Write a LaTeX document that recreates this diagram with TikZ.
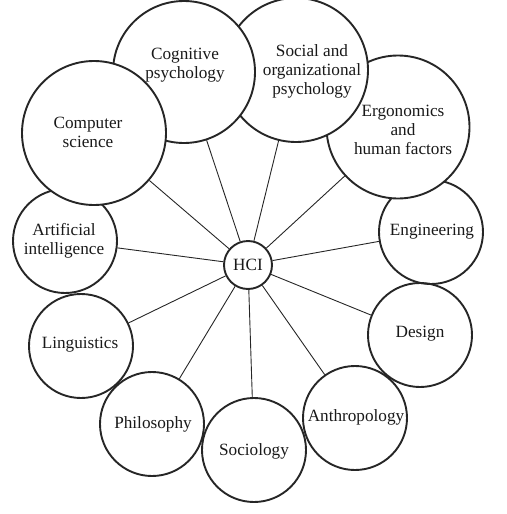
\documentclass[tikz,border=0pt]{standalone}
\usepackage{fontspec}
\setmainfont{Liberation Serif}
\begin{document}
\begin{tikzpicture}[x=1pt,y=-1pt,
  disc/.style={circle,draw=black!85,line width=1.9pt,inner sep=0pt,minimum size=#1},
  bigdisc/.style={disc=#1,fill=white},
  lbl/.style={align=center,inner sep=0pt,font=\fontsize{17.2}{18.9}\selectfont,text=black!90},
  spoke/.style={draw=black!85,line width=0.9pt}]
\useasboundingbox (0,0) rectangle (506,514);
% small circles (unfilled)
\node[disc=104pt] (ai) at (65,241) {};
\node[disc=104pt] (eng) at (431,232) {};
\node[disc=104pt] (ling) at (81,346) {};
\node[disc=104pt] (des) at (420,335) {};
\node[disc=104pt] (phil) at (152,424) {};
\node[disc=104pt] (soci) at (254,450) {};
\node[disc=104pt] (anth) at (355,418) {};
% large circles (filled, stacked)
\node[bigdisc=143pt] (erg) at (398,127) {};
\node[bigdisc=144pt] (soc) at (296,70) {};
\node[bigdisc=142pt] (cog) at (184,72) {};
\node[bigdisc=144pt] (comp) at (94,133) {};
\node[disc=48pt] (hci) at (248,265) {};
% labels
\node[lbl] (tcog) at (185,65) {Cognitive\\psychology};
\node[lbl] (tsoc) at (312,71) {Social and\\organizational\\psychology};
\node[lbl] (tcomp) at (88,132) {Computer\\science};
\node[lbl] (terg) at (403,130) {Ergonomics\\and\\human factors};
\node[lbl] (tai) at (64,241) {Artificial\\intelligence};
\node[lbl] (teng) at (432,232) {Engineering};
\node[lbl] (tling) at (80,345) {Linguistics};
\node[lbl] (tdes) at (420,334) {Design};
\node[lbl] (tphil) at (153,424) {Philosophy};
\node[lbl] (tsoci) at (254,451) {Sociology};
\node[lbl] (tanth) at (356,417) {Anthropology};
\node[lbl] (thci) at (248,265) {HCI};
% spokes
\foreach \t in {cog,soc,erg,comp,ai,eng,ling,des,phil,soci,anth}
  \draw[spoke] (hci) -- (\t);
\end{tikzpicture}
\end{document}
